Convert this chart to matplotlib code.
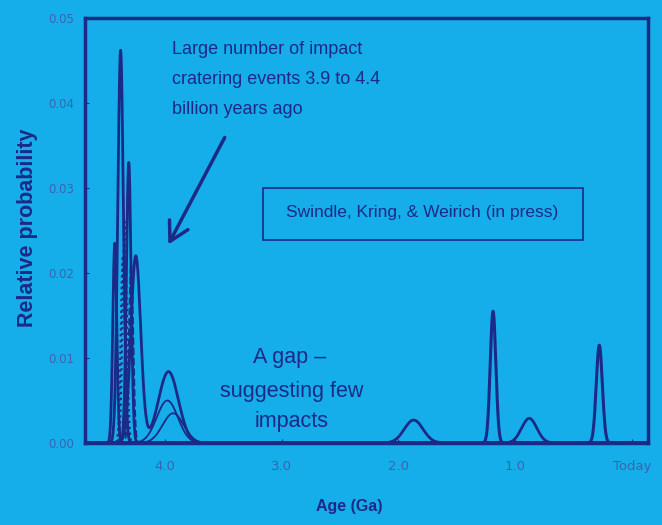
import numpy as np
import matplotlib
matplotlib.use('Agg')
import matplotlib.pyplot as plt

# ---- data ----
# each curve: list of (center age Ga, peak height, sigma Ga) components (summed)
curve_centers = [[4.38], [4.43], [4.31], [4.345], [4.36], [4.29],
                 [3.97, 4.25], [3.98], [3.93],
                 [1.87], [1.19], [0.88], [0.28]]
curve_heights = [[0.0462], [0.0235], [0.033], [0.026], [0.022], [0.021],
                 [0.0084, 0.022], [0.0050], [0.0035],
                 [0.0027], [0.0155], [0.0029], [0.0115]]
curve_sigmas = [[0.024], [0.017], [0.020], [0.018], [0.018], [0.018],
                [0.085, 0.042], [0.09], [0.09],
                [0.08], [0.024], [0.065], [0.026]]
curve_styles = ['-', '-', '-', ':', ':', '--', '-', '-', '-', '-', '-', '-', '-']
curve_widths = [2.0, 2.0, 2.0, 1.6, 1.6, 1.4, 2.0, 1.3, 1.3, 2.0, 2.2, 2.0, 2.2]

x_tick_values = [4.0, 3.0, 2.0, 1.0, 0.0]
x_tick_labels = ['4.0', '3.0', '2.0', '1.0', 'Today']
y_tick_values = [0.00, 0.01, 0.02, 0.03, 0.04, 0.05]

BG = '#16aeea'
NAVY = '#1b2a86'
TICKC = '#3a64b0'

W, H = 662, 525
fig = plt.figure(figsize=(W / 100, H / 100), dpi=100, facecolor=BG)

def fx(x):
    return x / W

def fy(y):
    return 1 - y / H

left, right, top, bottom = 85, 648, 18, 443
ax = fig.add_axes([fx(left), fy(bottom), fx(right) - fx(left), fy(top) - fy(bottom)])
ax.set_facecolor(BG)

ages = np.linspace(-0.2, 4.8, 4000)
for cs, hs, ss, st, lw in zip(curve_centers, curve_heights, curve_sigmas, curve_styles, curve_widths):
    y = np.zeros_like(ages)
    for c, h, s in zip(cs, hs, ss):
        y = y + h * np.exp(-0.5 * ((ages - c) / s) ** 2)
    ax.plot(ages, y, linestyle=st, color=NAVY, lw=lw)

ax.set_xlim(4.685, -0.137)
ax.set_ylim(0, 0.05)
ax.set_xticks(x_tick_values)
ax.set_xticklabels(x_tick_labels)
ax.set_yticks(y_tick_values)
ax.set_yticklabels(['%.2f' % v for v in y_tick_values])
ax.tick_params(axis='both', direction='in', color=NAVY, labelcolor=TICKC,
               labelsize=8.5, length=3)
ax.tick_params(axis='y', pad=8)
ax.tick_params(axis='x', pad=12, labelsize=9.5)
for sp in ax.spines.values():
    sp.set_color(NAVY)
    sp.set_linewidth(2.5)

fig.text(fx(28), fy(228), 'Relative probability', rotation=90, ha='center', va='center',
         color=NAVY, fontsize=15.5, fontweight='bold', family='Liberation Sans')
fig.text(fx(349), fy(506), 'Age (Ga)', ha='center', va='center',
         color=NAVY, fontsize=11.5, fontweight='bold', family='Liberation Sans')

fam = 'Liberation Sans'
fig.text(fx(172), fy(50), 'Large number of impact', ha='left', va='center',
         color=NAVY, fontsize=13, family=fam)
fig.text(fx(172), fy(80), 'cratering events 3.9 to 4.4', ha='left', va='center',
         color=NAVY, fontsize=13, family=fam)
fig.text(fx(172), fy(110), 'billion years ago', ha='left', va='center',
         color=NAVY, fontsize=13, family=fam)

fig.text(fx(290), fy(358), 'A gap \u2013', ha='center', va='center',
         color=NAVY, fontsize=15.5, family=fam)
fig.text(fx(292), fy(391), 'suggesting few', ha='center', va='center',
         color=NAVY, fontsize=15.5, family=fam)
fig.text(fx(292), fy(421), 'impacts', ha='center', va='center',
         color=NAVY, fontsize=15.5, family=fam)

fig.text(fx(422), fy(213), 'Swindle, Kring, & Weirich (in press)', ha='center', va='center',
         color=NAVY, fontsize=12.5, family=fam)
ax.add_patch(matplotlib.patches.Rectangle((fx(263), fy(240)), fx(583) - fx(263), fy(188) - fy(240),
             transform=fig.transFigure, fill=False, edgecolor=NAVY, lw=1.2, clip_on=False))

fig.patches.append(matplotlib.patches.FancyArrowPatch(
    (fx(226), fy(135)), (fx(167), fy(247)), transform=fig.transFigure,
    arrowstyle='->,head_length=9,head_width=5', color=NAVY, lw=2.5, mutation_scale=1.5))

fig.savefig('out.png', dpi=100, facecolor=BG)
